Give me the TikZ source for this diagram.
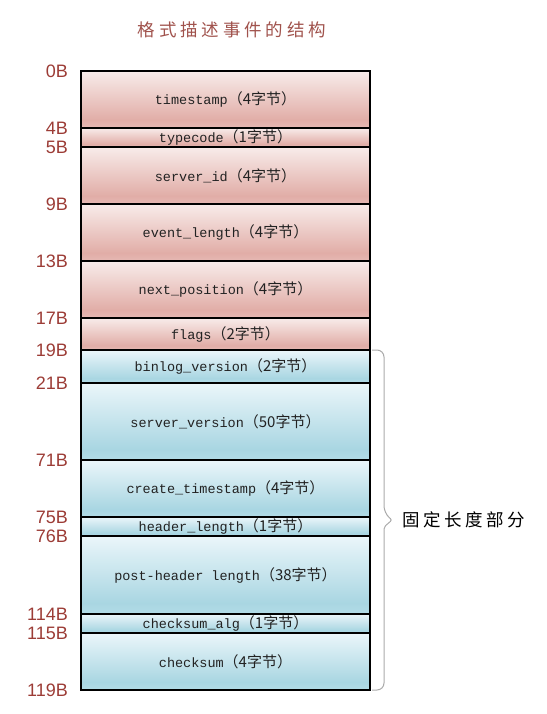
\documentclass[tikz,border=0pt]{standalone}
\usepackage{fontspec}
\setmainfont{Liberation Sans}
\setmonofont{Liberation Mono}
\newfontfamily\cjk{Noto Sans CJK SC}
\newfontfamily\cjktitle{Noto Sans CJK SC}[LetterSpace=22]
\newfontfamily\cjkside{Noto Sans CJK SC}[LetterSpace=20]
\definecolor{redL}{HTML}{F8ECEA}
\definecolor{redD}{HTML}{E1ADA7}
\definecolor{redB}{HTML}{E6B9B4}
\definecolor{bluL}{HTML}{EBF6FA}
\definecolor{bluD}{HTML}{A9D6E2}
\definecolor{bluB}{HTML}{B3DCE7}
\definecolor{lblc}{HTML}{9C3C36}
\definecolor{titc}{HTML}{A0524C}
\definecolor{txtc}{HTML}{222222}
\definecolor{bracec}{HTML}{AAAAAA}
\pgfdeclareverticalshading{redsh}{100bp}{color(0bp)=(redB); color(25bp)=(redB); color(32bp)=(redD); color(75bp)=(redL); color(100bp)=(redL)}
\pgfdeclareverticalshading{blush}{100bp}{color(0bp)=(bluB); color(25bp)=(bluB); color(32bp)=(bluD); color(75bp)=(bluL); color(100bp)=(bluL)}
\newcommand\bxt[2]{{\ttfamily\fontsize{13.5pt}{15pt}\selectfont #1}{\cjk\fontsize{15pt}{15pt}\selectfont （#2字节）}}
\tikzset{
  rowbase/.style={draw=black, line width=1.1pt, minimum width=289pt, inner sep=0pt, outer sep=0pt, text=txtc},
  rowR/.style={rowbase, shading=redsh},
  rowB/.style={rowbase, shading=blush},
  lbl/.style={anchor=east, text=lblc, font=\fontsize{18pt}{18pt}\selectfont, inner sep=0pt},
}
\begin{document}
\begin{tikzpicture}[x=1pt,y=1pt]
\useasboundingbox (0,0) rectangle (546,-714);
\node[text=titc, font=\cjktitle\fontsize{17.5pt}{17.5pt}\selectfont] (title) at (232,-30) {格式描述事件的结构};
% red rows
\node[rowR, minimum height=57pt] (r1) at (225.5,-99.5) {\bxt{timestamp}{4}};
\node[rowR, minimum height=19pt, anchor=north] (r2) at (r1.south) {\bxt{typecode}{1}};
\node[rowR, minimum height=57pt, anchor=north] (r3) at (r2.south) {\bxt{server\_id}{4}};
\node[rowR, minimum height=57pt, anchor=north] (r4) at (r3.south) {\bxt{event\_length}{4}};
\node[rowR, minimum height=57pt, anchor=north] (r5) at (r4.south) {\bxt{next\_position}{4}};
\node[rowR, minimum height=32pt, anchor=north] (r6) at (r5.south) {\bxt{flags}{2}};
% blue rows
\node[rowB, minimum height=33pt, anchor=north] (b1) at (r6.south) {\bxt{binlog\_version}{2}};
\node[rowB, minimum height=77pt, anchor=north] (b2) at (b1.south) {\bxt{server\_version}{50}};
\node[rowB, minimum height=57pt, anchor=north] (b3) at (b2.south) {\bxt{create\_timestamp}{4}};
\node[rowB, minimum height=19pt, anchor=north] (b4) at (b3.south) {\bxt{header\_length}{1}};
\node[rowB, minimum height=78pt, anchor=north] (b5) at (b4.south) {\bxt{post-header length}{38}};
\node[rowB, minimum height=19pt, anchor=north] (b6) at (b5.south) {\bxt{checksum\_alg}{1}};
\node[rowB, minimum height=57pt, anchor=north] (b7) at (b6.south) {\bxt{checksum}{4}};
% labels
\node[lbl] (l0) at ([xshift=-13pt]r1.north west) {0B};
\node[lbl] (l4) at ([xshift=-13pt]r2.north west) {4B};
\node[lbl] (l5) at ([xshift=-13pt]r3.north west) {5B};
\node[lbl] (l9) at ([xshift=-13pt]r4.north west) {9B};
\node[lbl] (l13) at ([xshift=-13pt]r5.north west) {13B};
\node[lbl] (l17) at ([xshift=-13pt]r6.north west) {17B};
\node[lbl] (l19) at ([xshift=-13pt]b1.north west) {19B};
\node[lbl] (l21) at ([xshift=-13pt]b2.north west) {21B};
\node[lbl] (l71) at ([xshift=-13pt]b3.north west) {71B};
\node[lbl] (l75) at ([xshift=-13pt]b4.north west) {75B};
\node[lbl] (l76) at ([xshift=-13pt]b5.north west) {76B};
\node[lbl] (l114) at ([xshift=-13pt]b6.north west) {114B};
\node[lbl] (l115) at ([xshift=-13pt]b7.north west) {115B};
\node[lbl] (l119) at ([xshift=-13pt]b7.south west) {119B};
% brace
\coordinate (bt) at ([xshift=2pt]b1.north east);
\coordinate (bb) at ([xshift=2pt]b7.south east);
\coordinate (tip) at (392,-520);
\draw[bracec, line width=1pt, rounded corners=7pt]
  (bt) -- (384,-350) -- (384,-513) [rounded corners=2pt] -- (tip) -- (384,-527) [rounded corners=7pt] -- (384,-690) -- (bb);
\node[anchor=west, font=\cjkside\fontsize{17.5pt}{17.5pt}\selectfont, inner sep=0pt] (fixed) at ([xshift=10pt]tip) {固定长度部分};
\end{tikzpicture}
\end{document}
